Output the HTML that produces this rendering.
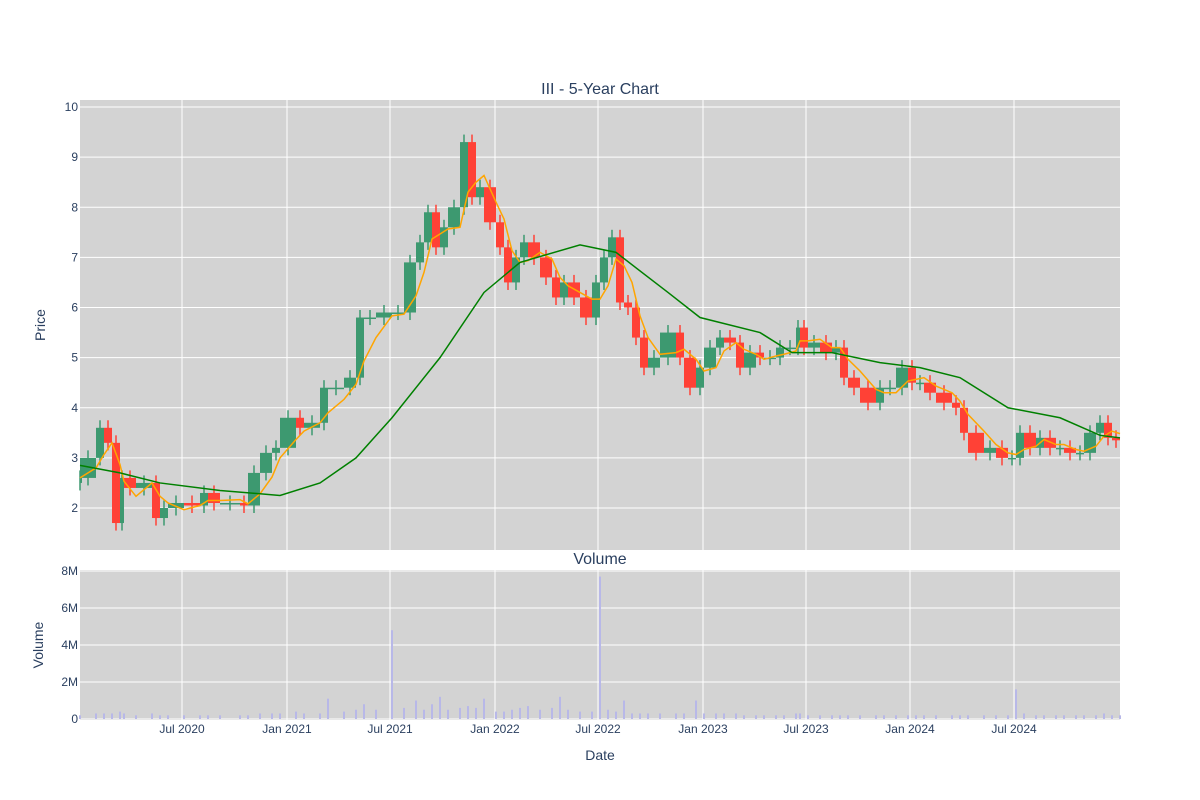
<!DOCTYPE html>
<html><head><meta charset="utf-8"><title>III - 5-Year Chart</title>
<style>
body{margin:0;background:#fff;}
svg{display:block;font-family:"Liberation Sans",sans-serif;}
</style></head>
<body>
<svg id="chart" width="1200" height="800" viewBox="0 0 1200 800" xmlns="http://www.w3.org/2000/svg">
<rect x="0" y="0" width="1200" height="800" fill="#fff"/>
<rect x="80" y="100" width="1040" height="450" fill="#d3d3d3"/>
<rect x="80" y="570" width="1040" height="150" fill="#d3d3d3"/>
<g id="grid"></g>
<g id="vol"></g>
<g id="candles"></g>
<g id="lines"></g>
<g id="axes" font-size="12" fill="#2a3f5f"></g>
<text x="600" y="94" text-anchor="middle" font-size="16" fill="#2a3f5f">III - 5-Year Chart</text>
<text x="600" y="564" text-anchor="middle" font-size="16" fill="#2a3f5f">Volume</text>
<text x="45" y="325" text-anchor="middle" font-size="14" fill="#2a3f5f" transform="rotate(-90 45 325)">Price</text>
<text x="43" y="645" text-anchor="middle" font-size="14" fill="#2a3f5f" transform="rotate(-90 43 645)">Volume</text>
<text x="600" y="760" text-anchor="middle" font-size="14" fill="#2a3f5f">Date</text>
</svg>
<script>
// week offsets from start (early Jan 2020)
const weeks = [0,4,6,8,10,11,14,18,20,22,26,30,32,35,40,42,45,48,50,54,56,60,62,66,69,71,74,78,81,84,86,88,90,92,95,97,99,101,104,106,108,110,112,115,118,120,122,125,128,130,132,134,136,138,140,142,145,149,151,154,156,159,161,164,166,169,171,174,176,179,180,182,185,188,190,192,195,199,201,204,207,209,211,214,218,220,222,226,229,232,234,236,239,241,244,246,249,251,254,256,258,260];
const closes = [2.6,3.0,3.6,3.3,1.7,2.6,2.4,2.5,1.8,2.0,2.1,2.05,2.3,2.1,2.1,2.05,2.7,3.1,3.2,3.8,3.6,3.7,4.4,4.4,4.6,5.8,5.8,5.9,5.9,6.9,7.3,7.9,7.2,7.6,8.0,9.3,8.2,8.4,7.7,7.2,6.5,7.0,7.3,7.0,6.6,6.2,6.5,6.2,5.8,6.5,7.0,7.4,6.1,6.0,5.4,4.8,5.0,5.5,5.0,4.4,4.8,5.2,5.4,5.3,4.8,5.1,5.0,5.0,5.2,5.2,5.6,5.2,5.3,5.1,5.2,4.6,4.4,4.1,4.4,4.4,4.8,4.5,4.5,4.3,4.1,4.0,3.5,3.1,3.2,3.0,3.0,3.5,3.2,3.4,3.2,3.2,3.1,3.1,3.5,3.7,3.4,3.35];
const volumes = [0.2,0.3,0.3,0.3,0.4,0.3,0.2,0.3,0.2,0.2,0.2,0.2,0.2,0.2,0.2,0.2,0.3,0.3,0.3,0.4,0.3,0.3,1.1,0.4,0.5,0.8,0.5,4.8,0.6,1.0,0.5,0.8,1.2,0.5,0.6,0.7,0.6,1.1,0.4,0.4,0.5,0.6,0.7,0.5,0.6,1.2,0.5,0.4,0.4,7.7,0.5,0.4,1.0,0.3,0.3,0.3,0.3,0.3,0.3,1.0,0.3,0.3,0.3,0.3,0.2,0.2,0.2,0.2,0.2,0.3,0.3,0.2,0.2,0.2,0.2,0.2,0.2,0.2,0.2,0.2,0.2,0.2,0.2,0.2,0.2,0.2,0.2,0.2,0.2,0.2,1.6,0.3,0.2,0.2,0.2,0.2,0.2,0.2,0.2,0.3,0.2,0.2];
const maLongWeeks = [0,10,20,35,50,60,69,78,90,101,110,125,134,147,155,170,178,188,200,210,220,232,245,255,260];
const maLong = [2.85,2.7,2.5,2.35,2.25,2.5,3.0,3.8,5.0,6.3,6.9,7.25,7.1,6.3,5.8,5.5,5.1,5.1,4.9,4.8,4.6,4.0,3.8,3.45,3.4];
const priceTicks = [2,3,4,5,6,7,8,9,10];
const volTicks = [0,2,4,6,8];
const volTickLabels = ["0","2M","4M","6M","8M"];
const dateTickWeeks = [25.5,51.75,77.5,103.75,129.5,155.75,181.5,207.5,233.5];
const dateTickLabels = ["Jul 2020","Jan 2021","Jul 2021","Jan 2022","Jul 2022","Jan 2023","Jul 2023","Jan 2024","Jul 2024"];

const NS="http://www.w3.org/2000/svg";
const xW = w => 80 + w*4.0;
const yP = v => 508 - (v-2)*50.125;
const yV = v => 719 - v*18.5;
function mk(tag, attrs, parent){const e=document.createElementNS(NS,tag);for(const k in attrs)e.setAttribute(k,attrs[k]);document.getElementById(parent).appendChild(e);return e;}

priceTicks.forEach(t=>{
  const l=mk('line',{x1:80,x2:1120,y1:yP(t),y2:yP(t),stroke:'#fff','stroke-width':1},'grid');
  
  
  const tx=mk('text',{x:78,y:yP(t)+4,'text-anchor':'end'},'axes');tx.textContent=t;
  
  
});
volTicks.forEach((t,i)=>{
  const l=mk('line',{x1:80,x2:1120,y1:yV(t),y2:yV(t),stroke:'#fff','stroke-width':1},'grid');
  
  
  const tx=mk('text',{x:78,y:yV(t)+4,'text-anchor':'end'},'axes');tx.textContent=volTickLabels[i];
  
  
});
dateTickWeeks.forEach((w,i)=>{
  const x=xW(w);
  const l1=mk('line',{x1:x,x2:x,y1:100,y2:550,stroke:'#fff','stroke-width':1},'grid');
  
  
  const l2=mk('line',{x1:x,x2:x,y1:570,y2:720,stroke:'#fff','stroke-width':1},'grid');
  
  
  const tx=mk('text',{x:x,y:733,'text-anchor':'middle'},'axes');tx.textContent=dateTickLabels[i];
  
  
});

weeks.forEach((w,i)=>{
  const x=xW(w);
  const r=mk('rect',{x:x-1,y:yV(volumes[i]),width:2,height:719-yV(volumes[i]),fill:'#b8b8e8'},'vol');
  
  
});

for(let i=0;i<weeks.length;i++){
  const o = i===0 ? closes[0]-0.1 : closes[i-1];
  const c = closes[i];
  const hi = Math.max(o,c)+0.15, lo = Math.min(o,c)-0.15;
  const x0 = xW(i===0?weeks[0]:weeks[i-1]), x1 = xW(weeks[i]);
  const col = c>=o ? '#3D9970' : '#FF4136';
  const xm=(x0+x1)/2;
  const wk=mk('line',{x1:xm,x2:xm,y1:yP(hi),y2:yP(lo),stroke:col,'stroke-width':1.5},'candles');
  
  
  const top=Math.min(yP(o),yP(c)), h=Math.max(1.5,Math.abs(yP(o)-yP(c)));
  const b=mk('rect',{x:x0,y:top,width:Math.max(2,x1-x0),height:h,fill:col},'candles');
  
  
}

// short moving average of closes
let ptsS=[];
closes.forEach((c,i)=>{const s=closes.slice(Math.max(0,i-2),i+1);const m=s.reduce((a,b)=>a+b,0)/s.length;ptsS.push(xW(weeks[i])+','+yP(m));});
const ms=mk('polyline',{points:ptsS.join(' '),fill:'none',stroke:'orange','stroke-width':1.5},'lines');


const ml=mk('polyline',{points:maLong.map((v,i)=>xW(maLongWeeks[i])+','+yP(v)).join(' '),fill:'none',stroke:'green','stroke-width':1.5},'lines');


</script>
</body></html>
